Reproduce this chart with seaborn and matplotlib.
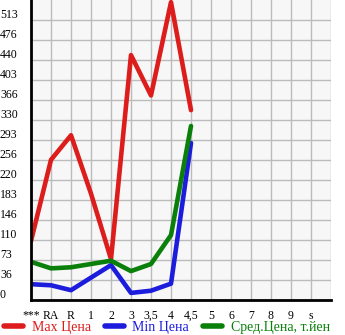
import numpy as np
import pandas as pd
import matplotlib
matplotlib.use("Agg")
import matplotlib.pyplot as plt
import seaborn as sns
from matplotlib.lines import Line2D
from matplotlib.transforms import ScaledTranslation, blended_transform_factory

categories = ["***", "RA", "R", "1", "2", "3", "3,5", "4", "4,5", "5", "6", "7", "8", "9", "s"]
max_price = [108, 257, 302, 195, 75, 449, 375, 546, 348]
min_price = [29, 27, 18, 41, 64, 13, 17, 30, 288]
avg_price = [70, 58, 60, 66, 72, 53, 66, 119, 319]
series_names = ["Max Цена", "Min Цена", "Сред.Цена, т.йен"]
ytick_labels = [0, 36, 73, 110, 146, 183, 220, 256, 293, 330, 366, 403, 440, 476, 513]

colors = ["#dd1c1c", "#1c1cdd", "#0a800a"]

rows = []
for name, vals in zip(series_names, [max_price, min_price, avg_price]):
    for i, v in enumerate(vals):
        rows.append({"pos": i, "value": v, "series": name})
df = pd.DataFrame(rows)

sns.set_style("white")
plt.rcParams["font.family"] = ["Liberation Serif", "DejaVu Serif"]

fig = plt.figure(figsize=(3.45, 3.35), dpi=100)
ax = fig.add_axes([31 / 345, 35 / 335, 300 / 345, 300 / 335])
ax.set_facecolor("#f7f7f7")

sns.lineplot(data=df, x="pos", y="value", hue="series", palette=colors,
             hue_order=series_names, sort=False, linewidth=3.3, ax=ax, legend=False)
for ln in ax.get_lines():
    ln.set_solid_joinstyle("round")
    ln.set_solid_capstyle("round")

ax.set_xlim(0, len(categories))
ax.set_ylim(0, 550)
ax.set_xticks(range(len(categories) + 1))
ax.set_xticklabels(categories + [""])
ax.set_yticks(ytick_labels)
ax.set_yticklabels([str(v) for v in ytick_labels])
ax.grid(True, color="#bbbbbb", linewidth=1.0)
ax.set_axisbelow(True)
ax.set_xlabel("")
ax.set_ylabel("")

for s in ["top", "right"]:
    ax.spines[s].set_visible(False)
for s in ["left", "bottom"]:
    ax.spines[s].set_color("black")
    ax.spines[s].set_linewidth(2)

ax.tick_params(axis="both", direction="out", length=3, width=1, color="black",
               labelsize=8.5, labelcolor="black")
ax.tick_params(axis="x", pad=4)
ytrans = blended_transform_factory(fig.transFigure, ax.transData) + ScaledTranslation(0, 5 / 100, fig.dpi_scale_trans)
for lab in ax.get_yticklabels():
    lab.set_horizontalalignment("left")
    lab.set_verticalalignment("center")
    lab.set_transform(ytrans)
    lab.set_x(0)

handles = [Line2D([0], [0], color=c, lw=4, solid_capstyle="round") for c in colors]
leg = fig.legend(handles, series_names, loc="lower left", bbox_to_anchor=(-0.005, -0.014),
                 ncol=3, frameon=False, fontsize=10, handlelength=1.4, handletextpad=0.6,
                 columnspacing=1.0, labelcolor=colors, borderaxespad=0.0)

fig.savefig("out.png", dpi=100, facecolor="white")
